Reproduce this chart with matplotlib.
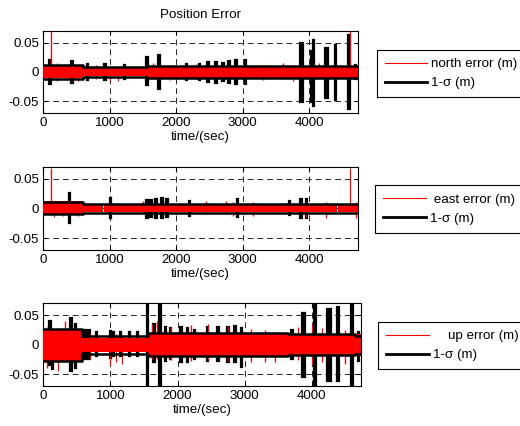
import numpy as np
import matplotlib
matplotlib.use("Agg")
import matplotlib.pyplot as plt
from matplotlib.lines import Line2D

plt.rcParams['font.family'] = ['Liberation Sans', 'DejaVu Sans']
plt.rcParams['font.size'] = 9.6

# ------------------------------------------------------------
# Data (time in sec, values in m)
# ------------------------------------------------------------

# north
n_sig_t = [0, 600, 1560, 3000, 4730]
n_sig_v = [0.012, 0.009, 0.011, 0.010, 0.010]
n_env_t = [0, 600, 895, 905, 1560, 4430, 4440, 4730]
n_env_hi = [0.011, 0.006, 0.0, 0.006, 0.010, 0.0, 0.010, 0.010]
n_env_lo = [-0.011, -0.007, 0.0, -0.007, -0.010, 0.0, -0.010, -0.010]
n_bur_t = [100, 430, 660, 930, 1220, 1560, 1740, 2150, 2350, 2480, 2600, 2700,
           2800, 2900, 3040, 3890, 4030, 4070, 4260, 4400, 4600, 4700]
n_bur_w = [20, 20, 15, 20, 10, 20, 25, 15, 20, 30, 40, 25, 30, 30, 20, 45, 20,
           20, 50, 20, 25, 10]
n_bur_hi = [0.02, 0.018, 0.014, 0.013, 0.012, 0.025, 0.028, 0.013, 0.013,
            0.017, 0.017, 0.016, 0.018, 0.02, 0.02, 0.05, 0.035, 0.055, 0.041,
            0.046, 0.063, 0.012]
n_bur_lo = [-0.02, -0.018, -0.013, -0.014, -0.012, -0.022, -0.028, -0.013,
            -0.014, -0.017, -0.018, -0.016, -0.019, -0.02, -0.02, -0.05,
            -0.05, -0.058, -0.044, -0.047, -0.063, -0.012]
n_spk_t = [115, 210, 320, 520, 800, 1000, 1130, 1650, 1900, 2300, 3300, 3600,
           3750, 4150, 4615]
n_spk_hi = [0.07, 0.016, 0.014, 0.012, 0.012, 0.008, 0.009, 0.015, 0.012,
            0.013, 0.012, 0.016, 0.012, 0.016, 0.07]
n_spk_lo = [-0.004, -0.015, -0.012, -0.016, -0.012, -0.016, -0.015, -0.012,
            -0.014, -0.012, -0.013, -0.012, -0.015, -0.012, -0.004]

# east
e_sig_t = [0, 600, 4730]
e_sig_v = [0.010, 0.008, 0.008]
e_env_t = [0, 600, 900, 912, 4425, 4440, 4730]
e_env_hi = [0.012, 0.006, 0.0, 0.006, 0.0, 0.006, 0.006]
e_env_lo = [-0.012, -0.006, 0.0, -0.006, 0.0, -0.006, -0.006]
e_bur_t = [390, 1010, 1560, 1620, 1700, 1780, 1860, 2200, 2920, 3700, 3880,
           3960]
e_bur_w = [20, 25, 20, 20, 30, 30, 25, 20, 20, 20, 30, 25]
e_bur_hi = [0.026, 0.017, 0.014, 0.014, 0.016, 0.017, 0.015, 0.013, 0.016,
            0.012, 0.016, 0.015]
e_bur_lo = [-0.024, -0.017, -0.016, -0.014, -0.016, -0.016, -0.015, -0.013,
            -0.014, -0.012, -0.016, -0.016]
e_spk_t = [115, 160, 300, 520, 1500, 2450, 2750, 2860, 3150, 3950, 4250,
           4610, 4700]
e_spk_hi = [0.067, 0.010, 0.011, 0.010, 0.012, 0.012, 0.012, 0.010, 0.010,
            0.011, 0.010, 0.067, 0.010]
e_spk_lo = [-0.004, -0.014, -0.013, -0.013, -0.010, -0.010, -0.010, -0.013,
            -0.013, -0.015, -0.016, -0.004, -0.016]

# up
u_sig_t = [0, 580, 1560, 3650, 4650, 4730]
u_sig_v = [0.027, 0.015, 0.020, 0.018, 0.015, 0.015]
u_env_t = [0, 580, 1560, 4730]
u_env_hi = [0.025, 0.012, 0.018, 0.018]
u_env_lo = [-0.027, -0.013, -0.019, -0.019]
u_bur_t = [100, 140, 420, 480, 640, 800, 1000, 1050, 1150, 1280, 1400, 1555,
           1740, 1650, 1820, 1900, 2050, 2150, 2250, 2450, 2600, 2750, 2850,
           2950, 3700, 3880, 4050, 4260, 4390, 4600, 4700]
u_bur_w = [25, 15, 30, 20, 100, 15, 15, 15, 15, 15, 15, 15, 40, 30, 20, 20,
           20, 25, 20, 20, 25, 30, 30, 20, 30, 40, 20, 50, 20, 20, 15]
u_bur_hi = [0.040, 0.020, 0.045, 0.035, 0.024, 0.022, 0.023, 0.022, 0.022,
            0.022, 0.021, 0.075, 0.075, 0.035, 0.030, 0.028, 0.030, 0.028,
            0.025, 0.030, 0.030, 0.030, 0.032, 0.028, 0.025, 0.053, 0.075,
            0.060, 0.063, 0.075, 0.022]
u_bur_lo = [-0.035, -0.042, -0.045, -0.040, -0.025, -0.020, -0.022, -0.020,
            -0.020, -0.020, -0.020, -0.075, -0.075, -0.030, -0.028, -0.025,
            -0.030, -0.030, -0.025, -0.027, -0.028, -0.030, -0.030, -0.037,
            -0.025, -0.055, -0.075, -0.062, -0.062, -0.075, -0.027]
u_spk_t = [60, 220, 330, 700, 1000, 1080, 1180, 1620, 1700, 1900, 2200, 2450,
           2750, 3100, 3300, 3450, 3800, 4000, 4150, 4500]
u_spk_hi = [0.030, 0.028, 0.040, 0.018, 0.016, 0.018, 0.016, 0.035, 0.040,
            0.030, 0.033, 0.035, 0.032, 0.026, 0.024, 0.022, 0.030, 0.035,
            0.028, 0.025]
u_spk_lo = [-0.040, -0.045, -0.030, -0.025, -0.035, -0.030, -0.032, -0.025,
            -0.024, -0.026, -0.028, -0.026, -0.028, -0.030, -0.030, -0.030,
            -0.026, -0.035, -0.030, -0.032]

panels = [
    ("north error (m)", n_sig_t, n_sig_v, n_env_t, n_env_hi, n_env_lo,
     n_bur_t, n_bur_w, n_bur_hi, n_bur_lo, n_spk_t, n_spk_hi, n_spk_lo),
    (" east error (m)", e_sig_t, e_sig_v, e_env_t, e_env_hi, e_env_lo,
     e_bur_t, e_bur_w, e_bur_hi, e_bur_lo, e_spk_t, e_spk_hi, e_spk_lo),
    ("    up error (m)", u_sig_t, u_sig_v, u_env_t, u_env_hi, u_env_lo,
     u_bur_t, u_bur_w, u_bur_hi, u_bur_lo, u_spk_t, u_spk_hi, u_spk_lo),
]

# axes boxes in pixels (left, top, right, bottom) and legend anchors
W, H = 520, 426
ax_px = [(43.3, 30.7, 357.7, 113.3),
         (43.3, 166.7, 357.7, 250.0),
         (43.3, 303.3, 360.7, 386.0)]
leg_px = [(376.7, 73.5), (375.0, 208.9), (378.3, 345.8)]

fig = plt.figure(figsize=(W / 100, H / 100), dpi=100)

for i, p in enumerate(panels):
    (lab, sig_t, sig_v, env_t, env_hi, env_lo,
     bur_t, bur_w, bur_hi, bur_lo, spk_t, spk_hi, spk_lo) = p
    l, t, r, b = ax_px[i]
    ax = fig.add_axes([l / W, 1 - b / H, (r - l) / W, (b - t) / H])

    # 1-sigma bursts
    ax.bar(bur_t, np.subtract(bur_hi, bur_lo), bottom=bur_lo, width=bur_w,
           color="k", edgecolor="k", linewidth=1.6, zorder=2)
    # error band + spikes
    ax.fill_between(env_t, env_lo, env_hi, step="post", color="red",
                    linewidth=0, zorder=3)
    ax.vlines(spk_t, spk_lo, spk_hi, color="red", linewidth=0.9, zorder=3)
    # 1-sigma level
    ax.step(sig_t, sig_v, where="post", color="k", linewidth=1.8, zorder=4)
    ax.step(sig_t, -np.array(sig_v), where="post", color="k", linewidth=1.8,
            zorder=4)

    ax.set_xlim(0, 4730)
    ax.set_ylim(-0.07, 0.07)
    ax.set_xticks([0, 1000, 2000, 3000, 4000])
    ax.set_yticks([-0.05, 0, 0.05])
    ax.set_yticklabels(["-0.05", "0", "0.05"])
    ax.grid(True, color="0.15", linestyle=(0, (6, 4)), linewidth=0.7)
    ax.set_axisbelow(True)
    ax.tick_params(direction="in", top=True, right=True, length=3, pad=3)
    for s in ax.spines.values():
        s.set_linewidth(0.8)
    ax.set_xlabel("time/(sec)", labelpad=1)
    if i == 0:
        ax.set_title("Position Error", fontsize=9.6, pad=9)

    handles = [Line2D([], [], color="red", linewidth=0.8),
               Line2D([], [], color="k", linewidth=2)]
    lx, ly = leg_px[i]
    leg = ax.legend(handles, [lab, "1-σ (m)"], loc="center left",
                    bbox_to_anchor=(lx / W, 1 - ly / H),
                    bbox_transform=fig.transFigure, borderaxespad=0,
                    fancybox=False, framealpha=1, edgecolor="k",
                    handlelength=3.2, handletextpad=0.3, labelspacing=0.5,
                    borderpad=0.6, fontsize=9.6)
    leg.get_frame().set_linewidth(0.8)

fig.savefig("out.png", dpi=100)
